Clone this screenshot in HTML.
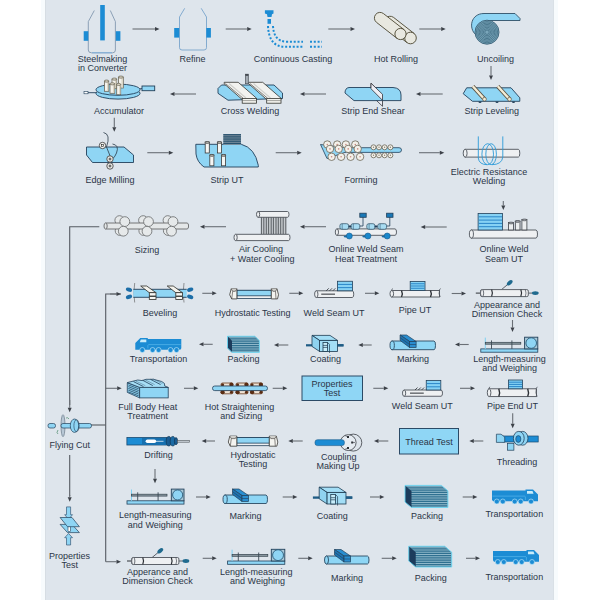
<!DOCTYPE html>
<html><head><meta charset="utf-8"><style>
html,body{margin:0;padding:0;background:#fff;}
svg{display:block;font-family:"Liberation Sans",sans-serif;}
</style></head><body>
<svg width="600" height="600" viewBox="0 0 600 600">
<rect x="0" y="0" width="600" height="600" fill="#ffffff"/>
<rect x="41" y="0" width="4" height="600" fill="#f7fbfd"/>
<rect x="554" y="0" width="4" height="600" fill="#f7fbfd"/>
<rect x="45" y="0" width="509" height="600" fill="#dee5ec"/>
<rect x="45" y="0" width="1" height="600" fill="#d6dde3"/>
<rect x="553" y="0" width="1" height="600" fill="#d9e0e6"/>
<text x="102.5" y="62" text-anchor="middle" font-size="9" fill="#2b3547">Steelmaking</text>
<text x="102.5" y="71" text-anchor="middle" font-size="9" fill="#2b3547">in Converter</text>
<text x="192.6" y="62" text-anchor="middle" font-size="9" fill="#2b3547">Refine</text>
<text x="293" y="62" text-anchor="middle" font-size="9" fill="#2b3547">Continuous Casting</text>
<text x="396" y="62" text-anchor="middle" font-size="9" fill="#2b3547">Hot Rolling</text>
<text x="495.5" y="62" text-anchor="middle" font-size="9" fill="#2b3547">Uncoiling</text>
<text x="119" y="114" text-anchor="middle" font-size="9" fill="#2b3547">Accumulator</text>
<text x="250" y="114" text-anchor="middle" font-size="9" fill="#2b3547">Cross Welding</text>
<text x="373" y="114" text-anchor="middle" font-size="9" fill="#2b3547">Strip End Shear</text>
<text x="491.7" y="114" text-anchor="middle" font-size="9" fill="#2b3547">Strip Leveling</text>
<text x="110" y="182.5" text-anchor="middle" font-size="9" fill="#2b3547">Edge Milling</text>
<text x="227" y="182.5" text-anchor="middle" font-size="9" fill="#2b3547">Strip UT</text>
<text x="361" y="182.5" text-anchor="middle" font-size="9" fill="#2b3547">Forming</text>
<text x="489" y="174.8" text-anchor="middle" font-size="9" fill="#2b3547">Electric Resistance</text>
<text x="489" y="183.5" text-anchor="middle" font-size="9" fill="#2b3547">Welding</text>
<text x="147" y="252.5" text-anchor="middle" font-size="9" fill="#2b3547">Sizing</text>
<text x="261" y="252.3" text-anchor="middle" font-size="9" fill="#2b3547">Air Cooling</text>
<text x="262.2" y="262" text-anchor="middle" font-size="9" fill="#2b3547">+ Water Cooling</text>
<text x="366" y="252.3" text-anchor="middle" font-size="9" fill="#2b3547">Online Weld Seam</text>
<text x="366" y="262" text-anchor="middle" font-size="9" fill="#2b3547">Heat Treatment</text>
<text x="504" y="252.3" text-anchor="middle" font-size="9" fill="#2b3547">Online Weld</text>
<text x="504" y="261.7" text-anchor="middle" font-size="9" fill="#2b3547">Seam UT</text>
<text x="160" y="315.5" text-anchor="middle" font-size="9" fill="#2b3547">Beveling</text>
<text x="252.7" y="315.5" text-anchor="middle" font-size="9" fill="#2b3547">Hydrostatic Testing</text>
<text x="334" y="315.8" text-anchor="middle" font-size="9" fill="#2b3547">Weld Seam UT</text>
<text x="415" y="313.3" text-anchor="middle" font-size="9" fill="#2b3547">Pipe UT</text>
<text x="507" y="307.5" text-anchor="middle" font-size="9" fill="#2b3547">Appearance and</text>
<text x="507" y="317" text-anchor="middle" font-size="9" fill="#2b3547">Dimension Check</text>
<text x="158.5" y="361.8" text-anchor="middle" font-size="9" fill="#2b3547">Transportation</text>
<text x="243.5" y="361.8" text-anchor="middle" font-size="9" fill="#2b3547">Packing</text>
<text x="325.5" y="361.8" text-anchor="middle" font-size="9" fill="#2b3547">Coating</text>
<text x="413" y="361.8" text-anchor="middle" font-size="9" fill="#2b3547">Marking</text>
<text x="509.4" y="362" text-anchor="middle" font-size="9" fill="#2b3547">Length-measuring</text>
<text x="509.6" y="371" text-anchor="middle" font-size="9" fill="#2b3547">and Weighing</text>
<text x="147.7" y="409.9" text-anchor="middle" font-size="9" fill="#2b3547">Full Body Heat</text>
<text x="147.7" y="419.3" text-anchor="middle" font-size="9" fill="#2b3547">Treatment</text>
<text x="69.7" y="447.5" text-anchor="middle" font-size="9" fill="#2b3547">Flying Cut</text>
<text x="239.5" y="409.9" text-anchor="middle" font-size="9" fill="#2b3547">Hot Straightening</text>
<text x="241.3" y="419.3" text-anchor="middle" font-size="9" fill="#2b3547">and Sizing</text>
<text x="422.3" y="409.2" text-anchor="middle" font-size="9" fill="#2b3547">Weld Seam UT</text>
<text x="512.5" y="409.2" text-anchor="middle" font-size="9" fill="#2b3547">Pipe End UT</text>
<text x="158.5" y="458.2" text-anchor="middle" font-size="9" fill="#2b3547">Drifting</text>
<text x="253" y="457.8" text-anchor="middle" font-size="9" fill="#2b3547">Hydrostatic</text>
<text x="253" y="467.2" text-anchor="middle" font-size="9" fill="#2b3547">Testing</text>
<text x="338.7" y="460" text-anchor="middle" font-size="9" fill="#2b3547">Coupling</text>
<text x="338" y="469.3" text-anchor="middle" font-size="9" fill="#2b3547">Making Up</text>
<text x="517" y="465" text-anchor="middle" font-size="9" fill="#2b3547">Threading</text>
<text x="155.3" y="518.2" text-anchor="middle" font-size="9" fill="#2b3547">Length-measuring</text>
<text x="155.3" y="527.6" text-anchor="middle" font-size="9" fill="#2b3547">and Weighing</text>
<text x="69.5" y="559" text-anchor="middle" font-size="9" fill="#2b3547">Properties</text>
<text x="69.7" y="568.4" text-anchor="middle" font-size="9" fill="#2b3547">Test</text>
<text x="245.5" y="519" text-anchor="middle" font-size="9" fill="#2b3547">Marking</text>
<text x="332.3" y="519" text-anchor="middle" font-size="9" fill="#2b3547">Coating</text>
<text x="427" y="518.8" text-anchor="middle" font-size="9" fill="#2b3547">Packing</text>
<text x="514.3" y="517" text-anchor="middle" font-size="9" fill="#2b3547">Transportation</text>
<text x="157.5" y="574.8" text-anchor="middle" font-size="9" fill="#2b3547">Apperance and</text>
<text x="157.5" y="584.2" text-anchor="middle" font-size="9" fill="#2b3547">Dimension Check</text>
<text x="256.3" y="574.8" text-anchor="middle" font-size="9" fill="#2b3547">Length-measuring</text>
<text x="257.5" y="584.3" text-anchor="middle" font-size="9" fill="#2b3547">and Weighing</text>
<text x="347" y="580.8" text-anchor="middle" font-size="9" fill="#2b3547">Marking</text>
<text x="430.7" y="580.8" text-anchor="middle" font-size="9" fill="#2b3547">Packing</text>
<text x="514.3" y="580.2" text-anchor="middle" font-size="9" fill="#2b3547">Transportation</text>
<rect x="302" y="376" width="60.5" height="24.5" fill="#8fd6f5" stroke="#2b4a66" stroke-width="1"/>
<text x="332" y="386.7" text-anchor="middle" font-size="9" fill="#2b3547">Properties</text>
<text x="332" y="396" text-anchor="middle" font-size="9" fill="#2b3547">Test</text>
<rect x="399.5" y="428.5" width="59" height="25.5" fill="#8fd6f5" stroke="#2b4a66" stroke-width="1"/>
<text x="429" y="444.8" text-anchor="middle" font-size="9" fill="#2b3547">Thread Test</text>
<line x1="132.5" y1="29" x2="155.00" y2="29.00" stroke="#6a6f76" stroke-width="1.1"/>
<path d="M159.5,29 L155.00,31.00 L155.00,27.00Z" fill="#3c4148"/>
<line x1="225.7" y1="29" x2="247.20" y2="29.00" stroke="#6a6f76" stroke-width="1.1"/>
<path d="M251.7,29 L247.20,31.00 L247.20,27.00Z" fill="#3c4148"/>
<line x1="328.3" y1="29" x2="350.50" y2="29.00" stroke="#6a6f76" stroke-width="1.1"/>
<path d="M355,29 L350.50,31.00 L350.50,27.00Z" fill="#3c4148"/>
<line x1="419.3" y1="29" x2="441.20" y2="29.00" stroke="#6a6f76" stroke-width="1.1"/>
<path d="M445.7,29 L441.20,31.00 L441.20,27.00Z" fill="#3c4148"/>
<line x1="491" y1="66" x2="491.00" y2="75.50" stroke="#6a6f76" stroke-width="1.1"/>
<path d="M491,80 L489.00,75.50 L493.00,75.50Z" fill="#3c4148"/>
<line x1="442.7" y1="94" x2="420.50" y2="94.00" stroke="#6a6f76" stroke-width="1.1"/>
<path d="M416,94 L420.50,92.00 L420.50,96.00Z" fill="#3c4148"/>
<line x1="326" y1="94" x2="304.50" y2="94.00" stroke="#6a6f76" stroke-width="1.1"/>
<path d="M300,94 L304.50,92.00 L304.50,96.00Z" fill="#3c4148"/>
<line x1="196" y1="94" x2="174.50" y2="94.00" stroke="#6a6f76" stroke-width="1.1"/>
<path d="M170,94 L174.50,92.00 L174.50,96.00Z" fill="#3c4148"/>
<line x1="114.3" y1="117.7" x2="114.30" y2="127.20" stroke="#6a6f76" stroke-width="1.1"/>
<path d="M114.3,131.7 L112.30,127.20 L116.30,127.20Z" fill="#3c4148"/>
<line x1="147.3" y1="152.7" x2="168.80" y2="152.70" stroke="#6a6f76" stroke-width="1.1"/>
<path d="M173.3,152.7 L168.80,154.70 L168.80,150.70Z" fill="#3c4148"/>
<line x1="275.7" y1="152.7" x2="297.20" y2="152.70" stroke="#6a6f76" stroke-width="1.1"/>
<path d="M301.7,152.7 L297.20,154.70 L297.20,150.70Z" fill="#3c4148"/>
<line x1="419" y1="152.7" x2="439.80" y2="152.70" stroke="#6a6f76" stroke-width="1.1"/>
<path d="M444.3,152.7 L439.80,154.70 L439.80,150.70Z" fill="#3c4148"/>
<line x1="503.3" y1="201" x2="503.30" y2="205.50" stroke="#6a6f76" stroke-width="1.1"/>
<path d="M503.3,210 L501.30,205.50 L505.30,205.50Z" fill="#3c4148"/>
<line x1="446.7" y1="227" x2="425.20" y2="227.00" stroke="#6a6f76" stroke-width="1.1"/>
<path d="M420.7,227 L425.20,225.00 L425.20,229.00Z" fill="#3c4148"/>
<line x1="326" y1="226.7" x2="304.50" y2="226.70" stroke="#6a6f76" stroke-width="1.1"/>
<path d="M300,226.7 L304.50,224.70 L304.50,228.70Z" fill="#3c4148"/>
<line x1="226" y1="226.7" x2="204.50" y2="226.70" stroke="#6a6f76" stroke-width="1.1"/>
<path d="M200,226.7 L204.50,224.70 L204.50,228.70Z" fill="#3c4148"/>
<line x1="202.3" y1="293.3" x2="212.20" y2="293.30" stroke="#6a6f76" stroke-width="1.1"/>
<path d="M216.7,293.3 L212.20,295.30 L212.20,291.30Z" fill="#3c4148"/>
<line x1="289.3" y1="293.3" x2="298.80" y2="293.30" stroke="#6a6f76" stroke-width="1.1"/>
<path d="M303.3,293.3 L298.80,295.30 L298.80,291.30Z" fill="#3c4148"/>
<line x1="365" y1="293.3" x2="374.80" y2="293.30" stroke="#6a6f76" stroke-width="1.1"/>
<path d="M379.3,293.3 L374.80,295.30 L374.80,291.30Z" fill="#3c4148"/>
<line x1="451.7" y1="293.5" x2="461.50" y2="293.50" stroke="#6a6f76" stroke-width="1.1"/>
<path d="M466,293.5 L461.50,295.50 L461.50,291.50Z" fill="#3c4148"/>
<line x1="512.5" y1="320" x2="512.50" y2="327.50" stroke="#6a6f76" stroke-width="1.1"/>
<path d="M512.5,332 L510.50,327.50 L514.50,327.50Z" fill="#3c4148"/>
<line x1="468.7" y1="344.5" x2="459.50" y2="344.50" stroke="#6a6f76" stroke-width="1.1"/>
<path d="M455,344.5 L459.50,342.50 L459.50,346.50Z" fill="#3c4148"/>
<line x1="371.7" y1="345" x2="362.80" y2="345.00" stroke="#6a6f76" stroke-width="1.1"/>
<path d="M358.3,345 L362.80,343.00 L362.80,347.00Z" fill="#3c4148"/>
<line x1="288.3" y1="345" x2="278.50" y2="345.00" stroke="#6a6f76" stroke-width="1.1"/>
<path d="M274,345 L278.50,343.00 L278.50,347.00Z" fill="#3c4148"/>
<line x1="212.7" y1="344.3" x2="203.50" y2="344.30" stroke="#6a6f76" stroke-width="1.1"/>
<path d="M199,344.3 L203.50,342.30 L203.50,346.30Z" fill="#3c4148"/>
<line x1="105.7" y1="388.3" x2="117.20" y2="388.30" stroke="#6a6f76" stroke-width="1.1"/>
<path d="M121.7,388.3 L117.20,390.30 L117.20,386.30Z" fill="#3c4148"/>
<line x1="184" y1="388.3" x2="193.80" y2="388.30" stroke="#6a6f76" stroke-width="1.1"/>
<path d="M198.3,388.3 L193.80,390.30 L193.80,386.30Z" fill="#3c4148"/>
<line x1="272.7" y1="388.3" x2="282.80" y2="388.30" stroke="#6a6f76" stroke-width="1.1"/>
<path d="M287.3,388.3 L282.80,390.30 L282.80,386.30Z" fill="#3c4148"/>
<line x1="373.3" y1="388.3" x2="383.80" y2="388.30" stroke="#6a6f76" stroke-width="1.1"/>
<path d="M388.3,388.3 L383.80,390.30 L383.80,386.30Z" fill="#3c4148"/>
<line x1="460" y1="388.3" x2="470.50" y2="388.30" stroke="#6a6f76" stroke-width="1.1"/>
<path d="M475,388.3 L470.50,390.30 L470.50,386.30Z" fill="#3c4148"/>
<line x1="512.7" y1="413.3" x2="512.70" y2="423.80" stroke="#6a6f76" stroke-width="1.1"/>
<path d="M512.7,428.3 L510.70,423.80 L514.70,423.80Z" fill="#3c4148"/>
<line x1="483.3" y1="441" x2="473.80" y2="441.00" stroke="#6a6f76" stroke-width="1.1"/>
<path d="M469.3,441 L473.80,439.00 L473.80,443.00Z" fill="#3c4148"/>
<line x1="388.3" y1="441" x2="378.50" y2="441.00" stroke="#6a6f76" stroke-width="1.1"/>
<path d="M374,441 L378.50,439.00 L378.50,443.00Z" fill="#3c4148"/>
<line x1="302.7" y1="441" x2="292.80" y2="441.00" stroke="#6a6f76" stroke-width="1.1"/>
<path d="M288.3,441 L292.80,439.00 L292.80,443.00Z" fill="#3c4148"/>
<line x1="215" y1="441" x2="206.20" y2="441.00" stroke="#6a6f76" stroke-width="1.1"/>
<path d="M201.7,441 L206.20,439.00 L206.20,443.00Z" fill="#3c4148"/>
<line x1="155" y1="469" x2="155.00" y2="478.80" stroke="#6a6f76" stroke-width="1.1"/>
<path d="M155,483.3 L153.00,478.80 L157.00,478.80Z" fill="#3c4148"/>
<line x1="196" y1="497" x2="206.20" y2="497.00" stroke="#6a6f76" stroke-width="1.1"/>
<path d="M210.7,497 L206.20,499.00 L206.20,495.00Z" fill="#3c4148"/>
<line x1="282.7" y1="497" x2="292.80" y2="497.00" stroke="#6a6f76" stroke-width="1.1"/>
<path d="M297.3,497 L292.80,499.00 L292.80,495.00Z" fill="#3c4148"/>
<line x1="370" y1="497" x2="379.80" y2="497.00" stroke="#6a6f76" stroke-width="1.1"/>
<path d="M384.3,497 L379.80,499.00 L379.80,495.00Z" fill="#3c4148"/>
<line x1="462.7" y1="497" x2="472.80" y2="497.00" stroke="#6a6f76" stroke-width="1.1"/>
<path d="M477.3,497 L472.80,499.00 L472.80,495.00Z" fill="#3c4148"/>
<line x1="202.7" y1="558.3" x2="212.20" y2="558.30" stroke="#6a6f76" stroke-width="1.1"/>
<path d="M216.7,558.3 L212.20,560.30 L212.20,556.30Z" fill="#3c4148"/>
<line x1="298.3" y1="558.3" x2="308.20" y2="558.30" stroke="#6a6f76" stroke-width="1.1"/>
<path d="M312.7,558.3 L308.20,560.30 L308.20,556.30Z" fill="#3c4148"/>
<line x1="381.7" y1="558.3" x2="392.20" y2="558.30" stroke="#6a6f76" stroke-width="1.1"/>
<path d="M396.7,558.3 L392.20,560.30 L392.20,556.30Z" fill="#3c4148"/>
<line x1="466" y1="558.3" x2="475.50" y2="558.30" stroke="#6a6f76" stroke-width="1.1"/>
<path d="M480,558.3 L475.50,560.30 L475.50,556.30Z" fill="#3c4148"/>
<path d="M99.3,226.7 L69.7,226.7 L69.7,405" fill="none" stroke="#565b62" stroke-width="1.1"/>
<line x1="69.7" y1="400" x2="69.70" y2="407.80" stroke="#6a6f76" stroke-width="1.1"/>
<path d="M69.7,412.3 L67.70,407.80 L71.70,407.80Z" fill="#3c4148"/>
<path d="M69.7,455 L69.7,496" fill="none" stroke="#565b62" stroke-width="1.1"/>
<line x1="69.7" y1="495" x2="69.70" y2="497.20" stroke="#6a6f76" stroke-width="1.1"/>
<path d="M69.7,501.7 L67.70,497.20 L71.70,497.20Z" fill="#3c4148"/>
<path d="M90,425 L105.7,425" fill="none" stroke="#565b62" stroke-width="1.1"/>
<path d="M121,294 L105.7,294 L105.7,561.7" fill="none" stroke="#565b62" stroke-width="1.1"/>
<line x1="110" y1="294" x2="116.50" y2="294.00" stroke="#6a6f76" stroke-width="1.1"/>
<path d="M121,294 L116.50,296.00 L116.50,292.00Z" fill="#3c4148"/>
<line x1="105.7" y1="561.7" x2="116.50" y2="561.70" stroke="#6a6f76" stroke-width="1.1"/>
<path d="M121,561.7 L116.50,563.70 L116.50,559.70Z" fill="#3c4148"/>
<path d="M94.3,10.5 L88.3,21.6 L88.3,50 Q88.3,52.8 91.5,52.8 L112.6,52.8 Q115.4,52.8 115.4,50 L115.4,21.6 L110.3,10.5" fill="none" stroke="#8298b0" stroke-width="0.9"/>
<line x1="92" y1="52.8" x2="112" y2="52.8" stroke="#7fb0dc" stroke-width="1"/>
<rect x="83.7" y="31.2" width="4.6" height="9.6" fill="#1c8cd4"/>
<rect x="115.8" y="31.2" width="4.6" height="9.6" fill="#1c8cd4"/>
<rect x="100.2" y="5" width="4.6" height="35.4" fill="#1c8cd4"/>
<path d="M184.7,8.3 L179.5,17 L179.5,47.7 Q179.5,50 182,50 L204,50 Q206.5,50 206.5,47.7 L206.5,17 L201.2,8.3" fill="none" stroke="#78a4cc" stroke-width="0.9"/>
<rect x="174.2" y="28" width="5" height="9.6" fill="#1c8cd4"/>
<rect x="206.3" y="28" width="4.6" height="9.6" fill="#1c8cd4"/>
<path d="M264.9,10.3 L273.5,10.3 L273.5,13.5 L272,14.2 L271.5,17 L267.5,17 L267,14.2 L264.9,13.5Z" fill="#1c8cd4"/>
<rect x="267.5" y="19" width="3.5" height="4.8" fill="#1c8cd4"/>
<path d="M268,26 C268.5,38 273,46.8 285,46.8 L303,46.8" fill="none" stroke="#1c8cd4" stroke-width="2" stroke-dasharray="2,1.8"/>
<path d="M273,26 C273.5,35 277,41.7 287,41.7 L303,41.7" fill="none" stroke="#1c8cd4" stroke-width="2" stroke-dasharray="2,1.8"/>
<path d="M310,46.8 L322,46.8 M310,41.7 L322,41.7" fill="none" stroke="#1c8cd4" stroke-width="2" stroke-dasharray="2,1.8"/>
<path d="M386.44,26.56 L406.93,42.57 L414.07,33.43 L393.58,17.42 A5.8,5.8 0 0 0 386.44,26.56 Z" fill="#e8e8e0" stroke="#4a4530" stroke-width="0.9"/>
<circle cx="410.5" cy="38" r="5.8" fill="#e8e8e0" stroke="#4a4530" stroke-width="0.9"/>
<path d="M376.56,22.41 L397.05,38.41 L403.95,29.59 L383.46,13.58 A5.6,5.6 0 0 0 376.56,22.41 Z" fill="#e8e8e0" stroke="#4a4530" stroke-width="0.9"/>
<circle cx="400.5" cy="34" r="5.6" fill="#e8e8e0" stroke="#4a4530" stroke-width="0.9"/>
<path d="M476,35 C468,28 471,13.5 484,13.5 L515,13.5 L520,18.5 L520,20.5 L488,20.5 Z" fill="#8fd5f4" stroke="#2f5068" stroke-width="0.9"/>
<circle cx="487" cy="32.2" r="12" fill="#7aa6ba" stroke="#3a6076" stroke-width="0.9"/>
<circle cx="487" cy="32.2" r="10.6" fill="none" stroke="#3d6a80" stroke-width="0.75"/>
<circle cx="487" cy="32.2" r="9.2" fill="none" stroke="#3d6a80" stroke-width="0.75"/>
<circle cx="487" cy="32.2" r="7.8" fill="none" stroke="#3d6a80" stroke-width="0.75"/>
<circle cx="487" cy="32.2" r="6.4" fill="none" stroke="#3d6a80" stroke-width="0.75"/>
<circle cx="487" cy="32.2" r="5.0" fill="none" stroke="#3d6a80" stroke-width="0.75"/>
<circle cx="487" cy="32.2" r="3.6" fill="none" stroke="#3d6a80" stroke-width="0.75"/>
<circle cx="487" cy="32.2" r="2.2" fill="none" stroke="#3d6a80" stroke-width="0.75"/>
<line x1="84" y1="92.7" x2="97" y2="92.7" stroke="#22405a" stroke-width="0.9"/>
<rect x="84" y="91.6" width="4" height="2.2" fill="#fff" stroke="#22405a" stroke-width="0.6"/>
<line x1="138" y1="89" x2="143" y2="88.5" stroke="#22405a" stroke-width="0.9"/>
<rect x="142" y="86" width="12.7" height="4.7" fill="#8fd5f4" stroke="#22405a" stroke-width="0.9"/>
<ellipse cx="118" cy="93.3" rx="22" ry="5.8" fill="#8fd5f4" stroke="#22405a" stroke-width="0.9"/>
<ellipse cx="118" cy="89.7" rx="22" ry="5.6" fill="#8fd5f4" stroke="#22405a" stroke-width="0.9"/>
<rect x="112" y="79.1" width="4.7" height="9.6" fill="#f4f3ee" stroke="#6a6658" stroke-width="0.8"/>
<rect x="114.914" y="79.6" width="1.41" height="8.5" fill="#dcd6c4"/>
<ellipse cx="114.35" cy="79.1" rx="2.35" ry="1.1" fill="#d8d2c0" stroke="#6a6658" stroke-width="0.7"/>
<rect x="118.4" y="77.1" width="4.9" height="10.9" fill="#f4f3ee" stroke="#6a6658" stroke-width="0.8"/>
<rect x="121.438" y="77.6" width="1.47" height="9.8" fill="#dcd6c4"/>
<ellipse cx="120.85000000000001" cy="77.1" rx="2.45" ry="1.1" fill="#d8d2c0" stroke="#6a6658" stroke-width="0.7"/>
<rect x="104.4" y="81.1" width="4.3" height="10.200000000000001" fill="#f4f3ee" stroke="#6a6658" stroke-width="0.8"/>
<rect x="107.066" y="81.6" width="1.2899999999999998" height="9.100000000000001" fill="#dcd6c4"/>
<ellipse cx="106.55000000000001" cy="81.1" rx="2.15" ry="1.1" fill="#d8d2c0" stroke="#6a6658" stroke-width="0.7"/>
<rect x="110" y="83.8" width="4.7" height="9.5" fill="#f4f3ee" stroke="#6a6658" stroke-width="0.8"/>
<rect x="112.914" y="84.3" width="1.41" height="8.399999999999999" fill="#dcd6c4"/>
<ellipse cx="112.35" cy="83.8" rx="2.35" ry="1.1" fill="#d8d2c0" stroke="#6a6658" stroke-width="0.7"/>
<rect x="116.7" y="84.39999999999999" width="4" height="10.3" fill="#f4f3ee" stroke="#6a6658" stroke-width="0.8"/>
<rect x="119.18" y="84.89999999999999" width="1.2" height="9.2" fill="#dcd6c4"/>
<ellipse cx="118.7" cy="84.39999999999999" rx="2.0" ry="1.1" fill="#d8d2c0" stroke="#6a6658" stroke-width="0.7"/>
<path d="M218,88.5 L221.5,85 L274,85 L282.5,93 L282.5,98.5 L228,100.2 L218,93.3 Z" fill="#8fd5f4" stroke="#22405a" stroke-width="0.9"/>
<path d="M224.2,82.3 L238.2,82.3 L256.5,98.2 L256.5,99.5 L242.2,99.5 L224.2,83.8 Z" fill="#f2f2ef" stroke="#34342f" stroke-width="0.8"/>
<line x1="225.5" y1="83.6" x2="243.2" y2="98.3" stroke="#34342f" stroke-width="0.6"/>
<line x1="229" y1="83.5" x2="246" y2="98" stroke="#d0d0cc" stroke-width="1.2"/>
<rect x="242.2" y="98.4" width="14.3" height="4.8" fill="#f4f4f0" stroke="#34342f" stroke-width="0.8"/>
<line x1="242.2" y1="100.6" x2="256.5" y2="100.6" stroke="#6a6a66" stroke-width="0.6"/>
<path d="M248.7,82.3 L262.7,82.3 L281.0,98.2 L281.0,99.5 L266.7,99.5 L248.7,83.8 Z" fill="#f2f2ef" stroke="#34342f" stroke-width="0.8"/>
<line x1="250.0" y1="83.6" x2="267.7" y2="98.3" stroke="#34342f" stroke-width="0.6"/>
<line x1="253.5" y1="83.5" x2="270.5" y2="98" stroke="#d0d0cc" stroke-width="1.2"/>
<rect x="266.7" y="98.4" width="14.3" height="4.8" fill="#f4f4f0" stroke="#34342f" stroke-width="0.8"/>
<line x1="266.7" y1="100.6" x2="281.0" y2="100.6" stroke="#6a6a66" stroke-width="0.6"/>
<rect x="245.5" y="74.2" width="2.8" height="9.5" fill="#a4acb4" stroke="#4a5058" stroke-width="0.7"/>
<rect x="245.5" y="74.2" width="2.8" height="1.6" fill="#3a4048"/>
<path d="M371,83.25 L382.5,94.25 L382.5,106.25 L371,95.25 Z" fill="#eeeef4" stroke="#34343a" stroke-width="0.8"/>
<path d="M349,87.5 L393,87.5 Q401,88 401,95 L401,100.6 L354,100.6 L345,93 Q345,88 349,87.5 Z" fill="#8fd5f4" stroke="#22405a" stroke-width="0.9"/>
<path d="M371,83.25 L382.5,94.25 L382.5,100.3 L371,88.75 Z" fill="#eeeef4" stroke="#34343a" stroke-width="0.8"/>
<path d="M466.7,87.8 L511,87.8 L519.8,97.8 L519.8,101.3 L472.5,101.3 L463.2,93.7 Z" fill="#8fd5f4" stroke="#22405a" stroke-width="0.9"/>
<line x1="472.8" y1="86.3" x2="484.5" y2="99.2" stroke="#5a5040" stroke-width="4"/>
<line x1="472.8" y1="86.3" x2="484.5" y2="99.2" stroke="#f4ecd4" stroke-width="2.4"/>
<circle cx="484.5" cy="99.2" r="1.9" fill="#f4ecd4" stroke="#5a5040" stroke-width="0.7"/>
<line x1="497.8" y1="86.3" x2="509.5" y2="99.2" stroke="#5a5040" stroke-width="4"/>
<line x1="497.8" y1="86.3" x2="509.5" y2="99.2" stroke="#f4ecd4" stroke-width="2.4"/>
<circle cx="509.5" cy="99.2" r="1.9" fill="#f4ecd4" stroke="#5a5040" stroke-width="0.7"/>
<path d="M478.4,101.5 A1.6,1.6 0 0 0 481.6,101.5 Z" fill="#22405a"/>
<path d="M495.4,101.5 A1.6,1.6 0 0 0 498.6,101.5 Z" fill="#22405a"/>
<path d="M511.9,101.5 A1.6,1.6 0 0 0 515.1,101.5 Z" fill="#22405a"/>
<path d="M86.5,147 L124,147 L133.5,155 L133.5,162.5 L92.5,162.5 L86.5,155 Z" fill="#8fd5f4" stroke="#22405a" stroke-width="0.9"/>
<path d="M103.5,132.5 Q111,134 106.5,147 L110.5,157" fill="none" stroke="#2a3a48" stroke-width="0.8"/>
<path d="M112.5,144 Q119.5,145 116.5,153 Q115,156.5 113,158.5" fill="none" stroke="#2a3a48" stroke-width="0.8"/>
<circle cx="102.5" cy="145.5" r="3.2" fill="#f4f4f0" stroke="#333" stroke-width="0.8"/>
<rect x="101.6" y="144.6" width="1.8" height="1.8" fill="none" stroke="#222" stroke-width="0.6"/>
<circle cx="110" cy="159" r="3.2" fill="#f4f4f0" stroke="#333" stroke-width="0.8"/>
<rect x="109.1" y="158.1" width="1.8" height="1.8" fill="none" stroke="#222" stroke-width="0.6"/>
<circle cx="110" cy="166" r="3.2" fill="#f4f4f0" stroke="#333" stroke-width="0.8"/>
<rect x="109.1" y="165.1" width="1.8" height="1.8" fill="none" stroke="#222" stroke-width="0.6"/>
<path d="M195.8,144.3 L241.3,144.3 Q255,148 258.3,165.3 L258.3,167 L204,167 Q197,162 196,154 Z" fill="#8fd5f4" stroke="#22405a" stroke-width="0.9"/>
<rect x="223.3" y="134.1" width="17.7" height="10.7" fill="#8a9aa6"/>
<rect x="223.3" y="134.10" width="17.7" height="1.3" fill="#27526e"/>
<rect x="223.3" y="136.25" width="17.7" height="1.3" fill="#27526e"/>
<rect x="223.3" y="138.40" width="17.7" height="1.3" fill="#27526e"/>
<rect x="223.3" y="140.55" width="17.7" height="1.3" fill="#27526e"/>
<rect x="223.3" y="142.70" width="17.7" height="1.3" fill="#27526e"/>
<rect x="205.2" y="141.9" width="4.1" height="11.1" fill="#f6f6f4" stroke="#3a3a3a" stroke-width="0.8"/>
<ellipse cx="207.25" cy="142.5" rx="2.05" ry="1" fill="#b0b0aa" stroke="#3a3a3a" stroke-width="0.6"/>
<rect x="217.4" y="141.9" width="4.1" height="11.1" fill="#f6f6f4" stroke="#3a3a3a" stroke-width="0.8"/>
<ellipse cx="219.45000000000002" cy="142.5" rx="2.05" ry="1" fill="#b0b0aa" stroke="#3a3a3a" stroke-width="0.6"/>
<rect x="209.8" y="154.8" width="4.1" height="11" fill="#f6f6f4" stroke="#3a3a3a" stroke-width="0.8"/>
<ellipse cx="211.85000000000002" cy="155.4" rx="2.05" ry="1" fill="#b0b0aa" stroke="#3a3a3a" stroke-width="0.6"/>
<rect x="221.5" y="154.8" width="4.1" height="11" fill="#f6f6f4" stroke="#3a3a3a" stroke-width="0.8"/>
<ellipse cx="223.55" cy="155.4" rx="2.05" ry="1" fill="#b0b0aa" stroke="#3a3a3a" stroke-width="0.6"/>
<path d="M320.5,144.5 L345,147.7 L399,147.7 Q401.5,147.7 401.5,150 Q401.5,152.4 399,152.4 L345,152.4 L327,158.5 Z" fill="#8fd5f4" stroke="#22405a" stroke-width="0.8"/>
<circle cx="327.3" cy="144.5" r="3.7" fill="#f3f1ea" stroke="#6a6455" stroke-width="0.8"/>
<circle cx="327.3" cy="144.5" r="0.8" fill="#c88a80"/>
<circle cx="337.2" cy="144.5" r="3.7" fill="#f3f1ea" stroke="#6a6455" stroke-width="0.8"/>
<circle cx="337.2" cy="144.5" r="0.8" fill="#c88a80"/>
<circle cx="345.9" cy="144.5" r="3.7" fill="#f3f1ea" stroke="#6a6455" stroke-width="0.8"/>
<circle cx="345.9" cy="144.5" r="0.8" fill="#c88a80"/>
<circle cx="355.3" cy="144.5" r="3.7" fill="#f3f1ea" stroke="#6a6455" stroke-width="0.8"/>
<circle cx="355.3" cy="144.5" r="0.8" fill="#c88a80"/>
<circle cx="330" cy="148.9" r="3.7" fill="#f3f1ea" stroke="#6a6455" stroke-width="0.8"/>
<circle cx="330" cy="148.9" r="0.8" fill="#c88a80"/>
<circle cx="338.7" cy="148.9" r="3.7" fill="#f3f1ea" stroke="#6a6455" stroke-width="0.8"/>
<circle cx="338.7" cy="148.9" r="0.8" fill="#c88a80"/>
<circle cx="348.2" cy="148.9" r="3.7" fill="#f3f1ea" stroke="#6a6455" stroke-width="0.8"/>
<circle cx="348.2" cy="148.9" r="0.8" fill="#c88a80"/>
<circle cx="357.7" cy="148.9" r="3.7" fill="#f3f1ea" stroke="#6a6455" stroke-width="0.8"/>
<circle cx="357.7" cy="148.9" r="0.8" fill="#c88a80"/>
<circle cx="331.6" cy="156.8" r="3.7" fill="#f3f1ea" stroke="#6a6455" stroke-width="0.8"/>
<circle cx="331.6" cy="156.8" r="0.8" fill="#c88a80"/>
<circle cx="341.1" cy="156.8" r="3.7" fill="#f3f1ea" stroke="#6a6455" stroke-width="0.8"/>
<circle cx="341.1" cy="156.8" r="0.8" fill="#c88a80"/>
<circle cx="350.6" cy="156.8" r="3.7" fill="#f3f1ea" stroke="#6a6455" stroke-width="0.8"/>
<circle cx="350.6" cy="156.8" r="0.8" fill="#c88a80"/>
<circle cx="360.1" cy="156.8" r="3.7" fill="#f3f1ea" stroke="#6a6455" stroke-width="0.8"/>
<circle cx="360.1" cy="156.8" r="0.8" fill="#c88a80"/>
<circle cx="373.5" cy="147.3" r="2.5" fill="#f3f1ea" stroke="#6a6455" stroke-width="0.8"/>
<circle cx="373.5" cy="147.3" r="0.7" fill="#8a8070"/>
<circle cx="379" cy="147.3" r="2.5" fill="#f3f1ea" stroke="#6a6455" stroke-width="0.8"/>
<circle cx="379" cy="147.3" r="0.7" fill="#8a8070"/>
<circle cx="384.6" cy="147.3" r="2.5" fill="#f3f1ea" stroke="#6a6455" stroke-width="0.8"/>
<circle cx="384.6" cy="147.3" r="0.7" fill="#8a8070"/>
<circle cx="390.4" cy="147.3" r="2.5" fill="#f3f1ea" stroke="#6a6455" stroke-width="0.8"/>
<circle cx="390.4" cy="147.3" r="0.7" fill="#8a8070"/>
<circle cx="373.5" cy="155.3" r="2.5" fill="#f3f1ea" stroke="#6a6455" stroke-width="0.8"/>
<circle cx="373.5" cy="155.3" r="0.7" fill="#8a8070"/>
<circle cx="379" cy="155.3" r="2.5" fill="#f3f1ea" stroke="#6a6455" stroke-width="0.8"/>
<circle cx="379" cy="155.3" r="0.7" fill="#8a8070"/>
<circle cx="384.6" cy="155.3" r="2.5" fill="#f3f1ea" stroke="#6a6455" stroke-width="0.8"/>
<circle cx="384.6" cy="155.3" r="0.7" fill="#8a8070"/>
<circle cx="390.4" cy="155.3" r="2.5" fill="#f3f1ea" stroke="#6a6455" stroke-width="0.8"/>
<circle cx="390.4" cy="155.3" r="0.7" fill="#8a8070"/>
<path d="M464.8,149.3 L518.3,149.3 Q519.8,149.3 519.8,153.2 Q519.8,157.1 518.3,157.1 L464.8,157.1 Z" fill="#eef0f2" stroke="#4d525a" stroke-width="0.9"/>
<ellipse cx="465.15" cy="153.2" rx="1.95" ry="3.8999999999999915" fill="#eef0f2" stroke="#4d525a" stroke-width="0.9"/>
<ellipse cx="487.7" cy="154.2" rx="5.8" ry="10.5" fill="none" stroke="#2a9ad8" stroke-width="0.9"/>
<ellipse cx="491.1" cy="154.2" rx="5.3" ry="10.5" fill="none" stroke="#2a9ad8" stroke-width="0.9"/>
<path d="M478.3,136.4 L478.3,158 Q479,164.5 487,164.7" fill="none" stroke="#2a9ad8" stroke-width="0.9"/>
<path d="M502.8,136.4 L502.8,157 Q502,164.5 492,164.7" fill="none" stroke="#2a9ad8" stroke-width="0.9"/>
<circle cx="119.5" cy="220.3" r="4.6" fill="#e6e9ea" stroke="#66686a" stroke-width="0.8"/>
<circle cx="119.8" cy="230.8" r="4.6" fill="#e6e9ea" stroke="#66686a" stroke-width="0.8"/>
<circle cx="143.2" cy="220.3" r="4.6" fill="#e6e9ea" stroke="#66686a" stroke-width="0.8"/>
<circle cx="143.5" cy="230.8" r="4.6" fill="#e6e9ea" stroke="#66686a" stroke-width="0.8"/>
<circle cx="167.7" cy="220.3" r="4.6" fill="#e6e9ea" stroke="#66686a" stroke-width="0.8"/>
<circle cx="168.0" cy="230.8" r="4.6" fill="#e6e9ea" stroke="#66686a" stroke-width="0.8"/>
<path d="M105.6,223 L187.1,223 Q188.6,223 188.6,226.0 Q188.6,229 187.1,229 L105.6,229 Z" fill="#e4e7e8" stroke="#66686a" stroke-width="0.9"/>
<ellipse cx="105.60" cy="226.0" rx="1.60" ry="3.0" fill="#e4e7e8" stroke="#66686a" stroke-width="0.9"/>
<circle cx="124.8" cy="221.6" r="4.9" fill="#e6e9ea" stroke="#66686a" stroke-width="0.8"/>
<circle cx="123.3" cy="231.2" r="4.9" fill="#e6e9ea" stroke="#66686a" stroke-width="0.8"/>
<circle cx="148.5" cy="221.6" r="4.9" fill="#e6e9ea" stroke="#66686a" stroke-width="0.8"/>
<circle cx="147.0" cy="231.2" r="4.9" fill="#e6e9ea" stroke="#66686a" stroke-width="0.8"/>
<circle cx="173.0" cy="221.6" r="4.9" fill="#e6e9ea" stroke="#66686a" stroke-width="0.8"/>
<circle cx="171.5" cy="231.2" r="4.9" fill="#e6e9ea" stroke="#66686a" stroke-width="0.8"/>
<rect x="260.9" y="217" width="25.4" height="17.5" fill="#c6cace"/>
<line x1="261.4" y1="217" x2="261.4" y2="234.5" stroke="#3e4248" stroke-width="0.8"/>
<line x1="263.8" y1="217" x2="263.8" y2="234.5" stroke="#3e4248" stroke-width="0.8"/>
<line x1="266.3" y1="217" x2="266.3" y2="234.5" stroke="#3e4248" stroke-width="0.8"/>
<line x1="268.6" y1="217" x2="268.6" y2="234.5" stroke="#3e4248" stroke-width="0.8"/>
<line x1="271.2" y1="217" x2="271.2" y2="234.5" stroke="#3e4248" stroke-width="0.8"/>
<line x1="273.4" y1="217" x2="273.4" y2="234.5" stroke="#3e4248" stroke-width="0.8"/>
<line x1="276" y1="217" x2="276" y2="234.5" stroke="#3e4248" stroke-width="0.8"/>
<line x1="278.3" y1="217" x2="278.3" y2="234.5" stroke="#3e4248" stroke-width="0.8"/>
<line x1="280.7" y1="217" x2="280.7" y2="234.5" stroke="#3e4248" stroke-width="0.8"/>
<line x1="283.2" y1="217" x2="283.2" y2="234.5" stroke="#3e4248" stroke-width="0.8"/>
<line x1="285.8" y1="217" x2="285.8" y2="234.5" stroke="#3e4248" stroke-width="0.8"/>
<path d="M258.1,211.5 L287.5,211.5 Q289,211.5 289,214.4 Q289,217.3 287.5,217.3 L258.1,217.3 Z" fill="#eef0f2" stroke="#4d525a" stroke-width="0.9"/>
<ellipse cx="258.10" cy="214.4" rx="1.60" ry="2.9000000000000057" fill="#eef0f2" stroke="#4d525a" stroke-width="0.9"/>
<path d="M235.6,234.3 L288.5,234.3 Q290,234.3 290,237.45 Q290,240.6 288.5,240.6 L235.6,240.6 Z" fill="#eef0f2" stroke="#4d525a" stroke-width="0.9"/>
<ellipse cx="235.60" cy="237.45" rx="1.60" ry="3.1499999999999915" fill="#eef0f2" stroke="#4d525a" stroke-width="0.9"/>
<path d="M336.90000000000003,228.9 L395.0,228.9 Q396.5,228.9 396.5,232.10000000000002 Q396.5,235.3 395.0,235.3 L336.90000000000003,235.3 Z" fill="#eef0f2" stroke="#4d525a" stroke-width="0.9"/>
<ellipse cx="336.90" cy="232.10000000000002" rx="1.60" ry="3.200000000000003" fill="#eef0f2" stroke="#4d525a" stroke-width="0.9"/>
<rect x="339.9" y="223.7" width="8.8" height="5.6" rx="2" fill="#a8dcf2" stroke="#3a5a70" stroke-width="0.8"/>
<line x1="342.2" y1="223.9" x2="342.2" y2="229.1" stroke="#22405a" stroke-width="0.5"/>
<rect x="351" y="223.7" width="8.8" height="5.6" rx="2" fill="#a8dcf2" stroke="#3a5a70" stroke-width="0.8"/>
<line x1="353.3" y1="223.9" x2="353.3" y2="229.1" stroke="#22405a" stroke-width="0.5"/>
<rect x="366.8" y="223.7" width="8.1" height="5.6" rx="2" fill="#a8dcf2" stroke="#3a5a70" stroke-width="0.8"/>
<line x1="369.1" y1="223.9" x2="369.1" y2="229.1" stroke="#22405a" stroke-width="0.5"/>
<rect x="377.8" y="223.7" width="8.8" height="5.6" rx="2" fill="#a8dcf2" stroke="#3a5a70" stroke-width="0.8"/>
<line x1="380.1" y1="223.9" x2="380.1" y2="229.1" stroke="#22405a" stroke-width="0.5"/>
<rect x="348.5" y="225.5" width="2.8" height="2" fill="#22405a"/>
<rect x="374.7" y="225.5" width="2.8" height="2" fill="#22405a"/>
<path d="M363.0,217 L363.0,226 L359.8,226" fill="none" stroke="#22405a" stroke-width="0.8"/>
<rect x="359.8" y="213.2" width="6.4" height="4.1" fill="#1a78b6" stroke="#22405a" stroke-width="0.8"/>
<path d="M389.8,217 L389.8,226 L386.6,226" fill="none" stroke="#22405a" stroke-width="0.8"/>
<rect x="386.6" y="213.2" width="6.4" height="4.1" fill="#1a78b6" stroke="#22405a" stroke-width="0.8"/>
<ellipse cx="345.7" cy="236.6" rx="2" ry="1" fill="#1a6aa0"/>
<circle cx="349.3" cy="236" r="3" fill="#1a88cc" stroke="#1a5a8a" stroke-width="0.6"/>
<ellipse cx="364.29999999999995" cy="236.6" rx="2" ry="1" fill="#1a6aa0"/>
<circle cx="367.9" cy="236" r="3" fill="#1a88cc" stroke="#1a5a8a" stroke-width="0.6"/>
<ellipse cx="383.59999999999997" cy="236.6" rx="2" ry="1" fill="#1a6aa0"/>
<circle cx="387.2" cy="236" r="3" fill="#1a88cc" stroke="#1a5a8a" stroke-width="0.6"/>
<path d="M471.0,230 L536.0,230 Q537.5,230 537.5,234.05 Q537.5,238.1 536.0,238.1 L471.0,238.1 Z" fill="#eef0f2" stroke="#4d525a" stroke-width="0.9"/>
<ellipse cx="471.42" cy="234.05" rx="2.02" ry="4.049999999999997" fill="#eef0f2" stroke="#4d525a" stroke-width="0.9"/>
<rect x="478.1" y="213.5" width="24.399999999999977" height="16.5" fill="#86d2f4" stroke="#22405a" stroke-width="0.8"/>
<line x1="478.6" y1="216.80" x2="502.0" y2="216.80" stroke="#2a86c8" stroke-width="1"/>
<line x1="478.6" y1="220.10" x2="502.0" y2="220.10" stroke="#2a86c8" stroke-width="1"/>
<line x1="478.6" y1="223.40" x2="502.0" y2="223.40" stroke="#2a86c8" stroke-width="1"/>
<line x1="478.6" y1="226.70" x2="502.0" y2="226.70" stroke="#2a86c8" stroke-width="1"/>
<rect x="508.5" y="222.5" width="5" height="7.5" fill="#eceeef" stroke="#3a3e44" stroke-width="0.8"/>
<ellipse cx="511.0" cy="223.0" rx="2.5" ry="0.9" fill="#a8acb0" stroke="#3a3e44" stroke-width="0.6"/>
<rect x="515.3" y="221" width="4.7" height="9" fill="#eceeef" stroke="#3a3e44" stroke-width="0.8"/>
<ellipse cx="517.65" cy="221.5" rx="2.35" ry="0.9" fill="#a8acb0" stroke="#3a3e44" stroke-width="0.6"/>
<rect x="521.9" y="219.4" width="5" height="10.599999999999994" fill="#eceeef" stroke="#3a3e44" stroke-width="0.8"/>
<ellipse cx="524.4" cy="219.9" rx="2.5" ry="0.9" fill="#a8acb0" stroke="#3a3e44" stroke-width="0.6"/>
<path d="M134.7,283 Q133,293 134.7,302.5" fill="none" stroke="#555" stroke-width="0.6"/>
<path d="M184.0,283 Q182.3,293 184.0,302.5" fill="none" stroke="#555" stroke-width="0.6"/>
<rect x="133.3" y="289.3" width="53.4" height="8" fill="#8fd5f4"/>
<line x1="133.3" y1="289.3" x2="186.7" y2="289.3" stroke="#22405a" stroke-width="0.9"/>
<line x1="133.3" y1="297.3" x2="186.7" y2="297.3" stroke="#22405a" stroke-width="0.9"/>
<ellipse cx="129" cy="289.7" rx="3.2" ry="2" fill="#1c6ea8" transform="rotate(20 129 289.7)"/>
<ellipse cx="129" cy="296.9" rx="3.2" ry="2" fill="#1c6ea8" transform="rotate(-20 129 296.9)"/>
<ellipse cx="190.2" cy="289.7" rx="3.2" ry="2" fill="#1c6ea8" transform="rotate(-20 190.2 289.7)"/>
<ellipse cx="190.2" cy="296.9" rx="3.2" ry="2" fill="#1c6ea8" transform="rotate(20 190.2 296.9)"/>
<path d="M140.7,286 L146.7,286 L156,292.7 L149.3,292.7 Z" fill="#f3f2ec" stroke="#2e2e2a" stroke-width="0.8"/>
<rect x="149.3" y="292.7" width="6.7" height="3.3" fill="#f6f6f2" stroke="#2e2e2a" stroke-width="0.8"/>
<rect x="149.3" y="296.6" width="6.7" height="2.9" fill="#f6f6f2" stroke="#2e2e2a" stroke-width="0.8"/>
<path d="M167.2,286 L173.2,286 L182.5,292.7 L175.8,292.7 Z" fill="#f3f2ec" stroke="#2e2e2a" stroke-width="0.8"/>
<rect x="175.8" y="292.7" width="6.7" height="3.3" fill="#f6f6f2" stroke="#2e2e2a" stroke-width="0.8"/>
<rect x="175.8" y="296.6" width="6.7" height="2.9" fill="#f6f6f2" stroke="#2e2e2a" stroke-width="0.8"/>
<rect x="236.9" y="290.3" width="34.400000000000006" height="8.099999999999966" fill="#eef0f2" stroke="#22405a" stroke-width="0.8"/>
<rect x="236.9" y="290.3" width="34.400000000000006" height="5.51" fill="#8fd5f4" stroke="#22405a" stroke-width="0.8"/>
<path d="M236.9,288.8 L231.20000000000002,288.8 L229.70000000000002,294.755 L231.70000000000002,298.9 L236.9,298.9 Z" fill="#f4f4f0" stroke="#3a3835" stroke-width="0.8"/>
<path d="M231.20000000000002,288.8 L232.70000000000002,291.3 L235.4,291.3 L236.9,288.8" fill="#cfcfcb" stroke="#3a3835" stroke-width="0.6"/>
<line x1="232.70000000000002" y1="291.3" x2="231.70000000000002" y2="298.9" stroke="#3a3835" stroke-width="0.6"/>
<path d="M271.3,288.8 L277.0,288.8 L278.5,294.755 L277.5,298.9 L271.3,298.9 Z" fill="#f4f4f0" stroke="#3a3835" stroke-width="0.8"/>
<path d="M277.0,288.8 L275.5,291.3 L272.8,291.3 L271.3,288.8" fill="#cfcfcb" stroke="#3a3835" stroke-width="0.6"/>
<line x1="275.5" y1="291.3" x2="276.0" y2="298.9" stroke="#3a3835" stroke-width="0.6"/>
<path d="M316.20000000000005,290.8 L352.25,290.8 Q353.75,290.8 353.75,294.15 Q353.75,297.5 352.25,297.5 L316.20000000000005,297.5 Z" fill="#eef0f2" stroke="#4d525a" stroke-width="0.9"/>
<ellipse cx="316.28" cy="294.15" rx="1.67" ry="3.3499999999999943" fill="#eef0f2" stroke="#4d525a" stroke-width="0.9"/>
<line x1="321.25" y1="294.15" x2="335" y2="294.15" stroke="#2b2f35" stroke-width="1"/>
<line x1="326.25" y1="290.8" x2="328.75" y2="288.3" stroke="#2b2f35" stroke-width="0.8"/>
<line x1="329.55" y1="290.8" x2="332.05" y2="288.3" stroke="#2b2f35" stroke-width="0.8"/>
<line x1="332.85" y1="290.8" x2="335.35" y2="288.3" stroke="#2b2f35" stroke-width="0.8"/>
<rect x="337.5" y="281.25" width="15.0" height="9.550000000000011" fill="#86d2f4" stroke="#22405a" stroke-width="0.8"/>
<line x1="338.0" y1="284.43" x2="352.0" y2="284.43" stroke="#2a86c8" stroke-width="1"/>
<line x1="338.0" y1="287.62" x2="352.0" y2="287.62" stroke="#2a86c8" stroke-width="1"/>
<rect x="391.8" y="290.5" width="47.7" height="6.5" fill="#eef0f2" stroke="#4d525a" stroke-width="0.9"/>
<ellipse cx="391.8" cy="293.75" rx="1.8" ry="3.25" fill="#eef0f2" stroke="#4d525a" stroke-width="0.9"/>
<path d="M439.5,290.5 Q438.5,293.75 440.1,297" fill="none" stroke="#4d525a" stroke-width="0.9"/>
<path d="M439.0,290.5 L440.5,288.5" fill="none" stroke="#4d525a" stroke-width="0.8"/>
<path d="M391.5,290.5 L392.5,288.5" fill="none" stroke="#4d525a" stroke-width="0.8"/>
<path d="M401.5,290.5 Q403.1,293.75 401.5,297" fill="none" stroke="#2b2f35" stroke-width="1.4"/>
<path d="M430.5,290.5 Q432.1,293.75 430.5,297" fill="none" stroke="#2b2f35" stroke-width="1.4"/>
<rect x="410.2" y="281.5" width="14.800000000000011" height="9.0" fill="#86d2f4" stroke="#22405a" stroke-width="0.8"/>
<line x1="410.7" y1="283.75" x2="424.5" y2="283.75" stroke="#2a86c8" stroke-width="1"/>
<line x1="410.7" y1="286.00" x2="424.5" y2="286.00" stroke="#2a86c8" stroke-width="1"/>
<line x1="410.7" y1="288.25" x2="424.5" y2="288.25" stroke="#2a86c8" stroke-width="1"/>
<line x1="475.8" y1="293.1" x2="480.5" y2="293.1" stroke="#2e3238" stroke-width="1"/>
<line x1="528.3" y1="293.1" x2="532.3" y2="293.1" stroke="#4d525a" stroke-width="0.9"/>
<ellipse cx="535.3" cy="293.1" rx="3.4" ry="1.9" fill="#1f6a8e"/>
<line x1="501.5" y1="289.6" x2="507.5" y2="284.6" stroke="#4d525a" stroke-width="0.9"/>
<ellipse cx="509.7" cy="282.8" rx="3.4" ry="1.9" fill="#1f6a8e" transform="rotate(-40 509.7 282.8)"/>
<rect x="480.5" y="289.6" width="47.799999999999955" height="7.0" rx="1.5" fill="#eef0f2" stroke="#4d525a" stroke-width="0.9"/>
<ellipse cx="482.1" cy="293.1" rx="1.6" ry="3.5" fill="#eef0f2" stroke="#4d525a" stroke-width="0.8"/>
<path d="M491.6,289.6 Q493.20000000000005,293.1 491.6,296.6" fill="none" stroke="#2b2f35" stroke-width="1.2"/>
<path d="M520.8,289.6 Q522.4,293.1 520.8,296.6" fill="none" stroke="#2b2f35" stroke-width="1.2"/>
<path d="M525.3,289.6 Q526.6999999999999,293.1 525.3,296.6" fill="none" stroke="#4d525a" stroke-width="0.7"/>
<rect x="480.8" y="348.9" width="56.99999999999994" height="3.3" fill="#8ed6f5" stroke="#22405a" stroke-width="0.8"/>
<line x1="485.3" y1="337.59999999999997" x2="485.3" y2="348.9" stroke="#7fd0f2" stroke-width="1"/>
<rect x="485.3" y="342.29999999999995" width="35.49999999999994" height="1.9" fill="#8c9aa2" stroke="#34424c" stroke-width="0.7"/>
<line x1="491.5" y1="340.4" x2="491.5" y2="348.9" stroke="#3b4a55" stroke-width="0.9"/>
<line x1="511.90000000000003" y1="340.4" x2="511.90000000000003" y2="348.9" stroke="#3b4a55" stroke-width="0.9"/>
<rect x="524.5999999999999" y="337.2" width="13.2" height="11.7" fill="#a8c8d8" stroke="#22405a" stroke-width="0.9"/>
<circle cx="531.1999999999999" cy="343.04999999999995" r="5.3" fill="#8fd5f4" stroke="#2a5a78" stroke-width="0.9"/>
<path d="M391.6,341 L434.0,341 Q435.5,341 435.5,345.35 Q435.5,349.7 434.0,349.7 L391.6,349.7 Z" fill="#8ed6f5" stroke="#2a4a62" stroke-width="0.9"/>
<ellipse cx="392.18" cy="345.35" rx="2.17" ry="4.349999999999994" fill="#8ed6f5" stroke="#2a4a62" stroke-width="0.9"/>
<path d="M400.1,335 L406.6,335 L416.1,341.5 L409.6,341.5 Z" fill="#2a8ed0" stroke="#22405a" stroke-width="0.7"/>
<path d="M400.1,335 L409.6,341.5 L409.6,347.5 L400.1,340.4 Z" fill="#1f75b2" stroke="#22405a" stroke-width="0.7"/>
<rect x="409.6" y="341.5" width="6.5" height="6.0" fill="#2a8ed0" stroke="#22405a" stroke-width="0.7"/>
<line x1="409.6" y1="344.5" x2="416.1" y2="344.5" stroke="#22405a" stroke-width="0.6"/>
<line x1="400.1" y1="337.7" x2="409.6" y2="344.5" stroke="#22405a" stroke-width="0.6"/>
<rect x="306.0" y="344.2" width="37.5" height="2.2" fill="#1f5c85"/>
<path d="M312,335.4 L330.0,335.4 L337.5,340.4 L319.5,340.4 Z" fill="#a3def6" stroke="#1c3a50" stroke-width="0.8"/>
<path d="M312,335.4 L319.5,340.4 L319.5,351.4 L312,346.4 Z" fill="#8fd3f0" stroke="#1c3a50" stroke-width="0.8"/>
<rect x="319.5" y="340.4" width="18.0" height="11.0" fill="#a3def6" stroke="#1c3a50" stroke-width="0.8"/>
<rect x="323.0" y="342.4" width="4.5" height="9.0" fill="#c8eefb" stroke="#1c3a50" stroke-width="0.8"/>
<line x1="323.0" y1="345.4" x2="327.5" y2="345.4" stroke="#1c3a50" stroke-width="0.7"/>
<line x1="323.0" y1="347.4" x2="327.5" y2="347.4" stroke="#1c3a50" stroke-width="0.7"/>
<path d="M327.5,342.4 L329.5,344.4 L329.5,352.9" fill="none" stroke="#1c3a50" stroke-width="0.7"/>
<rect x="337.5" y="344.2" width="6.0" height="2.2" fill="#1f5c85"/>
<clipPath id="pk1"><path d="M227.5,336.25 L254.89999999999998,336.25 L259.4,340.75 L259.4,352.4 L232.0,352.4 L227.5,347.9 Z"/></clipPath>
<g clip-path="url(#pk1)"><rect x="227.5" y="336.25" width="31.899999999999977" height="16.149999999999977" fill="#2f7090"/>
<line x1="227.5" y1="337.65" x2="259.4" y2="337.65" stroke="#8fb8ca" stroke-width="1.05"/>
<line x1="227.5" y1="339.90" x2="259.4" y2="339.90" stroke="#8fb8ca" stroke-width="1.05"/>
<line x1="227.5" y1="342.15" x2="259.4" y2="342.15" stroke="#8fb8ca" stroke-width="1.05"/>
<line x1="227.5" y1="344.40" x2="259.4" y2="344.40" stroke="#8fb8ca" stroke-width="1.05"/>
<line x1="227.5" y1="346.65" x2="259.4" y2="346.65" stroke="#8fb8ca" stroke-width="1.05"/>
<line x1="227.5" y1="348.90" x2="259.4" y2="348.90" stroke="#8fb8ca" stroke-width="1.05"/>
<line x1="227.5" y1="351.15" x2="259.4" y2="351.15" stroke="#8fb8ca" stroke-width="1.05"/>
</g>
<path d="M227.5,336.25 L232.0,340.75 L232.0,352.4 L227.5,347.9 Z" fill="#1c3c5c"/>
<path d="M227.5,336.25 L254.89999999999998,336.25 L259.4,340.75 L259.4,352.4 L232.0,352.4 L227.5,347.9 Z" fill="none" stroke="#6cd6f2" stroke-width="0.9"/>
<g transform="translate(135.3,338)">
<path d="M5,0 L12.5,0 L12.5,1 L46,1 L46,10.3 L45,11.8 L0,11.8 L0,5 Z" fill="#1c8cd4"/>
<path d="M5.5,1.5 L11,1.5 L11,4.2 L4.5,4.2 Z" fill="#c8ecfb"/>
<line x1="13" y1="6.6" x2="45.5" y2="6.6" stroke="#62bdf0" stroke-width="0.6"/>
<line x1="12.6" y1="7" x2="12.6" y2="10.5" stroke="#62bdf0" stroke-width="0.6"/>
<circle cx="7" cy="12" r="2.5" fill="#1c8cd4" stroke="#c8ecfb" stroke-width="0.6"/>
<circle cx="17.3" cy="12" r="2.5" fill="#1c8cd4" stroke="#c8ecfb" stroke-width="0.6"/>
<circle cx="23.3" cy="12" r="2.5" fill="#1c8cd4" stroke="#c8ecfb" stroke-width="0.6"/>
<circle cx="35.2" cy="12" r="2.5" fill="#1c8cd4" stroke="#c8ecfb" stroke-width="0.6"/>
<circle cx="41.2" cy="12" r="2.5" fill="#1c8cd4" stroke="#c8ecfb" stroke-width="0.6"/>
</g>
<path d="M127.3,382.8 L139.7,387.4 L139.7,397.9 L127.3,392.4 Z" fill="#8fd5f4" stroke="#22405a" stroke-width="0.8"/>
<line x1="128.3" y1="384.90" x2="138.7" y2="388.80" stroke="#22405a" stroke-width="0.75"/>
<line x1="128.3" y1="386.65" x2="138.7" y2="390.55" stroke="#22405a" stroke-width="0.75"/>
<line x1="128.3" y1="388.40" x2="138.7" y2="392.30" stroke="#22405a" stroke-width="0.75"/>
<line x1="128.3" y1="390.15" x2="138.7" y2="394.05" stroke="#22405a" stroke-width="0.75"/>
<line x1="128.3" y1="391.90" x2="138.7" y2="395.80" stroke="#22405a" stroke-width="0.75"/>
<rect x="139.7" y="387.4" width="28.5" height="10.5" fill="#8fd5f4" stroke="#22405a" stroke-width="0.8"/>
<path d="M127.25,382.6 L137.75,380 L142.2,380.6 L146,379.3 L153.5,379.3 L161.7,381.5 L164.4,383.4 L164.75,386 L168.2,387.4 L139.7,387.4 Z" fill="#a6def6" stroke="#22405a" stroke-width="0.8"/>
<line x1="133.5" y1="381.6" x2="143.5" y2="386.6" stroke="#22405a" stroke-width="0.8"/>
<line x1="135.7" y1="381.0" x2="145.3" y2="385.6" stroke="#4a6a84" stroke-width="0.5"/>
<line x1="142.5" y1="380.2" x2="152.8" y2="385.6" stroke="#22405a" stroke-width="0.8"/>
<line x1="144.7" y1="379.59999999999997" x2="154.60000000000002" y2="384.6" stroke="#4a6a84" stroke-width="0.5"/>
<line x1="150.6" y1="379.4" x2="160.6" y2="384.6" stroke="#22405a" stroke-width="0.8"/>
<line x1="152.79999999999998" y1="378.79999999999995" x2="162.4" y2="383.6" stroke="#4a6a84" stroke-width="0.5"/>
<rect x="221" y="383" width="12" height="3.3" rx="1.5" fill="#efe2d4" stroke="#6a3a1c" stroke-width="0.8"/>
<circle cx="222.6" cy="384.65" r="1.5" fill="#5a2c12"/>
<circle cx="231.4" cy="384.65" r="2.1" fill="#5a2c12"/>
<rect x="221" y="390.5" width="12" height="3.3" rx="1.5" fill="#efe2d4" stroke="#6a3a1c" stroke-width="0.8"/>
<circle cx="222.6" cy="392.15" r="2.1" fill="#5a2c12"/>
<circle cx="231.4" cy="392.15" r="1.5" fill="#5a2c12"/>
<rect x="236" y="383" width="12" height="3.3" rx="1.5" fill="#efe2d4" stroke="#6a3a1c" stroke-width="0.8"/>
<circle cx="237.6" cy="384.65" r="1.5" fill="#5a2c12"/>
<circle cx="246.4" cy="384.65" r="2.1" fill="#5a2c12"/>
<rect x="236" y="390.5" width="12" height="3.3" rx="1.5" fill="#efe2d4" stroke="#6a3a1c" stroke-width="0.8"/>
<circle cx="237.6" cy="392.15" r="2.1" fill="#5a2c12"/>
<circle cx="246.4" cy="392.15" r="1.5" fill="#5a2c12"/>
<rect x="250.5" y="383" width="12.0" height="3.3" rx="1.5" fill="#efe2d4" stroke="#6a3a1c" stroke-width="0.8"/>
<circle cx="252.1" cy="384.65" r="1.5" fill="#5a2c12"/>
<circle cx="260.9" cy="384.65" r="2.1" fill="#5a2c12"/>
<rect x="250.5" y="390.5" width="12.0" height="3.3" rx="1.5" fill="#efe2d4" stroke="#6a3a1c" stroke-width="0.8"/>
<circle cx="252.1" cy="392.15" r="2.1" fill="#5a2c12"/>
<circle cx="260.9" cy="392.15" r="1.5" fill="#5a2c12"/>
<rect x="212.5" y="386" width="55" height="4.6" rx="2.2" fill="#8fd5f4" stroke="#22405a" stroke-width="0.8"/>
<path d="M404.1,390 L441.0,390 Q442.5,390 442.5,393.125 Q442.5,396.25 441.0,396.25 L404.1,396.25 Z" fill="#eef0f2" stroke="#4d525a" stroke-width="0.9"/>
<ellipse cx="404.10" cy="393.125" rx="1.60" ry="3.125" fill="#eef0f2" stroke="#4d525a" stroke-width="0.9"/>
<line x1="410" y1="393.125" x2="423.75" y2="393.125" stroke="#2b2f35" stroke-width="1"/>
<line x1="415.0" y1="390" x2="417.5" y2="387.5" stroke="#2b2f35" stroke-width="0.8"/>
<line x1="418.3" y1="390" x2="420.8" y2="387.5" stroke="#2b2f35" stroke-width="0.8"/>
<line x1="421.6" y1="390" x2="424.1" y2="387.5" stroke="#2b2f35" stroke-width="0.8"/>
<rect x="426.25" y="380.4" width="14.550000000000011" height="9.600000000000023" fill="#86d2f4" stroke="#22405a" stroke-width="0.8"/>
<line x1="426.75" y1="383.60" x2="440.3" y2="383.60" stroke="#2a86c8" stroke-width="1"/>
<line x1="426.75" y1="386.80" x2="440.3" y2="386.80" stroke="#2a86c8" stroke-width="1"/>
<rect x="489.1" y="388.8" width="47.29999999999997" height="7.800000000000011" fill="#eef0f2" stroke="#4d525a" stroke-width="0.9"/>
<ellipse cx="489.1" cy="392.70000000000005" rx="1.8" ry="3.9000000000000057" fill="#eef0f2" stroke="#4d525a" stroke-width="0.9"/>
<path d="M536.4,388.8 Q535.4,392.70000000000005 537.0,396.6" fill="none" stroke="#4d525a" stroke-width="0.9"/>
<path d="M535.9,388.8 L537.4,386.8" fill="none" stroke="#4d525a" stroke-width="0.8"/>
<path d="M488.8,388.8 L489.8,386.8" fill="none" stroke="#4d525a" stroke-width="0.8"/>
<path d="M498.8,388.8 Q500.40000000000003,392.70000000000005 498.8,396.6" fill="none" stroke="#2b2f35" stroke-width="1.4"/>
<path d="M527.7,388.8 Q529.3000000000001,392.70000000000005 527.7,396.6" fill="none" stroke="#2b2f35" stroke-width="1.4"/>
<rect x="508.4" y="380" width="14.200000000000045" height="8.800000000000011" fill="#86d2f4" stroke="#22405a" stroke-width="0.8"/>
<line x1="508.9" y1="382.20" x2="522.1" y2="382.20" stroke="#2a86c8" stroke-width="1"/>
<line x1="508.9" y1="384.40" x2="522.1" y2="384.40" stroke="#2a86c8" stroke-width="1"/>
<line x1="508.9" y1="386.60" x2="522.1" y2="386.60" stroke="#2a86c8" stroke-width="1"/>
<rect x="126.9" y="437.5" width="40.6" height="7.5" fill="#1c8cd4" stroke="#1a4a70" stroke-width="0.8"/>
<rect x="142" y="438" width="25" height="6.5" fill="#1670b0"/>
<rect x="145.6" y="439.5" width="10.6" height="3.6" rx="1.8" fill="#ffffff"/>
<line x1="156" y1="441.3" x2="163.5" y2="441.3" stroke="#e8f0f8" stroke-width="0.8"/>
<ellipse cx="168.8" cy="441.2" rx="2.6" ry="4.8" fill="#1a5c92" stroke="#10304a" stroke-width="0.6"/>
<ellipse cx="172.8" cy="441.2" rx="2.6" ry="4.8" fill="#1a6aa4" stroke="#10304a" stroke-width="0.6"/>
<ellipse cx="176" cy="441.2" rx="1.6" ry="3.6" fill="#1a5c92" stroke="#10304a" stroke-width="0.6"/>
<rect x="177.5" y="440.4" width="11.9" height="1.8" fill="#c8d0d6" stroke="#50565c" stroke-width="0.6"/>
<rect x="236.8" y="437.6" width="32.5" height="8.099999999999966" fill="#eef0f2" stroke="#22405a" stroke-width="0.8"/>
<rect x="236.8" y="437.6" width="32.5" height="5.51" fill="#8fd5f4" stroke="#22405a" stroke-width="0.8"/>
<path d="M236.8,436.1 L229.8,436.1 L228.3,442.055 L230.3,446.2 L236.8,446.2 Z" fill="#f4f4f0" stroke="#3a3835" stroke-width="0.8"/>
<path d="M229.8,436.1 L231.3,438.6 L235.3,438.6 L236.8,436.1" fill="#cfcfcb" stroke="#3a3835" stroke-width="0.6"/>
<line x1="231.3" y1="438.6" x2="230.3" y2="446.2" stroke="#3a3835" stroke-width="0.6"/>
<path d="M269.3,436.1 L276.3,436.1 L277.8,442.055 L276.8,446.2 L269.3,446.2 Z" fill="#f4f4f0" stroke="#3a3835" stroke-width="0.8"/>
<path d="M276.3,436.1 L274.8,438.6 L270.8,438.6 L269.3,436.1" fill="#cfcfcb" stroke="#3a3835" stroke-width="0.6"/>
<line x1="274.8" y1="438.6" x2="275.3" y2="446.2" stroke="#3a3835" stroke-width="0.6"/>
<circle cx="353.3" cy="442.6" r="8.5" fill="none" stroke="#3a3e44" stroke-width="0.8"/>
<circle cx="348.2" cy="442.6" r="7.9" fill="#e6ecf2" stroke="#3a3e44" stroke-width="0.8"/>
<rect x="315" y="439.7" width="29.4" height="5.9" rx="2.5" fill="#1c8cd4" stroke="#1a5a8a" stroke-width="0.6"/>
<rect x="347" y="436" width="2" height="2" fill="#2a2e34"/>
<rect x="351.2" y="441.5" width="2" height="2" fill="#2a2e34"/>
<rect x="347" y="447" width="2" height="2" fill="#2a2e34"/>
<path d="M345,435.5 L348,437 M345,449.3 L348,448 M352.2,442.5 L355,442.5" stroke="#3a3e44" stroke-width="0.6"/>
<rect x="502.8" y="436" width="35.4" height="6" fill="#1c8cd4" stroke="#1a4a70" stroke-width="0.7"/>
<path d="M496.4,434.2 L501,434.2 L504.7,437 L504.7,442.4 L496.4,442.4 Z" fill="#8fd5f4" stroke="#22405a" stroke-width="0.7"/>
<rect x="507.4" y="443.3" width="6.5" height="6.9" fill="#8fd5f4" stroke="#22405a" stroke-width="0.7"/>
<ellipse cx="522.6" cy="438.3" rx="5.4" ry="6.9" fill="#8fd5f4" stroke="#22405a" stroke-width="0.8"/>
<ellipse cx="518.8" cy="438.3" rx="5.4" ry="6.9" fill="#8fd5f4" stroke="#22405a" stroke-width="0.8"/>
<ellipse cx="518.3" cy="439" rx="2.6" ry="3.4" fill="#1c8cd4" stroke="#22405a" stroke-width="0.6"/>
<rect x="127" y="500.8" width="57" height="3.3" fill="#8ed6f5" stroke="#22405a" stroke-width="0.8"/>
<line x1="131.5" y1="489.5" x2="131.5" y2="500.8" stroke="#7fd0f2" stroke-width="1"/>
<rect x="131.5" y="494.2" width="35.5" height="1.9" fill="#8c9aa2" stroke="#34424c" stroke-width="0.7"/>
<line x1="137.7" y1="492.3" x2="137.7" y2="500.8" stroke="#3b4a55" stroke-width="0.9"/>
<line x1="158.1" y1="492.3" x2="158.1" y2="500.8" stroke="#3b4a55" stroke-width="0.9"/>
<rect x="171.3" y="489.1" width="12.7" height="11.7" fill="#a8c8d8" stroke="#22405a" stroke-width="0.9"/>
<circle cx="177.65" cy="494.95" r="5.05" fill="#8fd5f4" stroke="#2a5a78" stroke-width="0.9"/>
<path d="M224.6,495 L266.0,495 Q267.5,495 267.5,499.25 Q267.5,503.5 266.0,503.5 L224.6,503.5 Z" fill="#8ed6f5" stroke="#2a4a62" stroke-width="0.9"/>
<ellipse cx="225.12" cy="499.25" rx="2.12" ry="4.25" fill="#8ed6f5" stroke="#2a4a62" stroke-width="0.9"/>
<path d="M232.5,489 L239.0,489 L248.5,495.5 L242.0,495.5 Z" fill="#2a8ed0" stroke="#22405a" stroke-width="0.7"/>
<path d="M232.5,489 L242.0,495.5 L242.0,501.5 L232.5,494.4 Z" fill="#1f75b2" stroke="#22405a" stroke-width="0.7"/>
<rect x="242.0" y="495.5" width="6.5" height="6.0" fill="#2a8ed0" stroke="#22405a" stroke-width="0.7"/>
<line x1="242.0" y1="498.5" x2="248.5" y2="498.5" stroke="#22405a" stroke-width="0.6"/>
<line x1="232.5" y1="491.7" x2="242.0" y2="498.5" stroke="#22405a" stroke-width="0.6"/>
<rect x="312.9" y="496.44" width="39.375" height="2.3100000000000005" fill="#1f5c85"/>
<path d="M319.2,487.2 L338.09999999999997,487.2 L345.97499999999997,492.45 L327.075,492.45 Z" fill="#a3def6" stroke="#1c3a50" stroke-width="0.8"/>
<path d="M319.2,487.2 L327.075,492.45 L327.075,504.0 L319.2,498.75 Z" fill="#8fd3f0" stroke="#1c3a50" stroke-width="0.8"/>
<rect x="327.075" y="492.45" width="18.900000000000002" height="11.55" fill="#a3def6" stroke="#1c3a50" stroke-width="0.8"/>
<rect x="330.75" y="494.55" width="4.7250000000000005" height="9.450000000000001" fill="#c8eefb" stroke="#1c3a50" stroke-width="0.8"/>
<line x1="330.75" y1="497.7" x2="335.47499999999997" y2="497.7" stroke="#1c3a50" stroke-width="0.7"/>
<line x1="330.75" y1="499.8" x2="335.47499999999997" y2="499.8" stroke="#1c3a50" stroke-width="0.7"/>
<path d="M335.47499999999997,494.55 L337.575,496.65 L337.575,505.575" fill="none" stroke="#1c3a50" stroke-width="0.7"/>
<rect x="345.97499999999997" y="496.44" width="6.300000000000001" height="2.3100000000000005" fill="#1f5c85"/>
<clipPath id="pk2"><path d="M405,485.4 L441.4,485.4 L447.9,490.9 L447.9,507.5 L411.5,507.5 L405,502.0 Z"/></clipPath>
<g clip-path="url(#pk2)"><rect x="405" y="485.4" width="42.89999999999998" height="22.100000000000023" fill="#2f7090"/>
<line x1="405" y1="486.80" x2="447.9" y2="486.80" stroke="#8fb8ca" stroke-width="1.05"/>
<line x1="405" y1="489.05" x2="447.9" y2="489.05" stroke="#8fb8ca" stroke-width="1.05"/>
<line x1="405" y1="491.30" x2="447.9" y2="491.30" stroke="#8fb8ca" stroke-width="1.05"/>
<line x1="405" y1="493.55" x2="447.9" y2="493.55" stroke="#8fb8ca" stroke-width="1.05"/>
<line x1="405" y1="495.80" x2="447.9" y2="495.80" stroke="#8fb8ca" stroke-width="1.05"/>
<line x1="405" y1="498.05" x2="447.9" y2="498.05" stroke="#8fb8ca" stroke-width="1.05"/>
<line x1="405" y1="500.30" x2="447.9" y2="500.30" stroke="#8fb8ca" stroke-width="1.05"/>
<line x1="405" y1="502.55" x2="447.9" y2="502.55" stroke="#8fb8ca" stroke-width="1.05"/>
<line x1="405" y1="504.80" x2="447.9" y2="504.80" stroke="#8fb8ca" stroke-width="1.05"/>
<line x1="405" y1="507.05" x2="447.9" y2="507.05" stroke="#8fb8ca" stroke-width="1.05"/>
</g>
<path d="M405,485.4 L411.5,490.9 L411.5,507.5 L405,502.0 Z" fill="#1c3c5c"/>
<path d="M405,485.4 L441.4,485.4 L447.9,490.9 L447.9,507.5 L411.5,507.5 L405,502.0 Z" fill="none" stroke="#6cd6f2" stroke-width="0.9"/>
<g transform="translate(492,489.5) translate(46,0) scale(-1,1)">
<path d="M5,0 L12.5,0 L12.5,1 L46,1 L46,10.3 L45,11.8 L0,11.8 L0,5 Z" fill="#1c8cd4"/>
<path d="M5.5,1.5 L11,1.5 L11,4.2 L4.5,4.2 Z" fill="#c8ecfb"/>
<line x1="13" y1="6.6" x2="45.5" y2="6.6" stroke="#62bdf0" stroke-width="0.6"/>
<line x1="12.6" y1="7" x2="12.6" y2="10.5" stroke="#62bdf0" stroke-width="0.6"/>
<circle cx="7" cy="12" r="2.5" fill="#1c8cd4" stroke="#c8ecfb" stroke-width="0.6"/>
<circle cx="17.3" cy="12" r="2.5" fill="#1c8cd4" stroke="#c8ecfb" stroke-width="0.6"/>
<circle cx="23.3" cy="12" r="2.5" fill="#1c8cd4" stroke="#c8ecfb" stroke-width="0.6"/>
<circle cx="35.2" cy="12" r="2.5" fill="#1c8cd4" stroke="#c8ecfb" stroke-width="0.6"/>
<circle cx="41.2" cy="12" r="2.5" fill="#1c8cd4" stroke="#c8ecfb" stroke-width="0.6"/>
</g>
<line x1="127" y1="561.0" x2="131.7" y2="561.0" stroke="#2e3238" stroke-width="1"/>
<line x1="178.9" y1="561.0" x2="182.9" y2="561.0" stroke="#4d525a" stroke-width="0.9"/>
<ellipse cx="185.9" cy="561.0" rx="3.4" ry="1.9" fill="#1f6a8e"/>
<line x1="152.1" y1="557.5" x2="158.1" y2="552.5" stroke="#4d525a" stroke-width="0.9"/>
<ellipse cx="160.29999999999998" cy="550.7" rx="3.4" ry="1.9" fill="#1f6a8e" transform="rotate(-40 160.29999999999998 550.7)"/>
<rect x="131.7" y="557.5" width="47.20000000000002" height="7.0" rx="1.5" fill="#eef0f2" stroke="#4d525a" stroke-width="0.9"/>
<ellipse cx="133.29999999999998" cy="561.0" rx="1.6" ry="3.5" fill="#eef0f2" stroke="#4d525a" stroke-width="0.8"/>
<path d="M142.75,557.5 Q144.35,561.0 142.75,564.5" fill="none" stroke="#2b2f35" stroke-width="1.2"/>
<path d="M171.3,557.5 Q172.9,561.0 171.3,564.5" fill="none" stroke="#2b2f35" stroke-width="1.2"/>
<path d="M175.9,557.5 Q177.3,561.0 175.9,564.5" fill="none" stroke="#4d525a" stroke-width="0.7"/>
<rect x="227.6" y="561" width="57.20000000000002" height="3.3" fill="#8ed6f5" stroke="#22405a" stroke-width="0.8"/>
<line x1="232.1" y1="549.7" x2="232.1" y2="561" stroke="#7fd0f2" stroke-width="1"/>
<rect x="232.1" y="554.4" width="35.70000000000002" height="1.9" fill="#8c9aa2" stroke="#34424c" stroke-width="0.7"/>
<line x1="238.29999999999998" y1="552.5" x2="238.29999999999998" y2="561" stroke="#3b4a55" stroke-width="0.9"/>
<line x1="258.7" y1="552.5" x2="258.7" y2="561" stroke="#3b4a55" stroke-width="0.9"/>
<rect x="271.3" y="549.3" width="13.5" height="11.7" fill="#a8c8d8" stroke="#22405a" stroke-width="0.9"/>
<circle cx="278.05" cy="555.15" r="5.45" fill="#8fd5f4" stroke="#2a5a78" stroke-width="0.9"/>
<path d="M326.1,556 L367.5,556 Q369,556 369,560.0 Q369,564 367.5,564 L326.1,564 Z" fill="#8ed6f5" stroke="#2a4a62" stroke-width="0.9"/>
<ellipse cx="326.50" cy="560.0" rx="2.00" ry="4.0" fill="#8ed6f5" stroke="#2a4a62" stroke-width="0.9"/>
<path d="M334.5,549.5 L341.0,549.5 L350.5,556.0 L344.0,556.0 Z" fill="#2a8ed0" stroke="#22405a" stroke-width="0.7"/>
<path d="M334.5,549.5 L344.0,556.0 L344.0,562.0 L334.5,554.9 Z" fill="#1f75b2" stroke="#22405a" stroke-width="0.7"/>
<rect x="344.0" y="556.0" width="6.5" height="6.0" fill="#2a8ed0" stroke="#22405a" stroke-width="0.7"/>
<line x1="344.0" y1="559.0" x2="350.5" y2="559.0" stroke="#22405a" stroke-width="0.6"/>
<line x1="334.5" y1="552.2" x2="344.0" y2="559.0" stroke="#22405a" stroke-width="0.6"/>
<clipPath id="pk3"><path d="M408.75,546.25 L444.7,546.25 L451.7,552.25 L451.7,567 L415.75,567 L408.75,561 Z"/></clipPath>
<g clip-path="url(#pk3)"><rect x="408.75" y="546.25" width="42.94999999999999" height="20.75" fill="#2f7090"/>
<line x1="408.75" y1="547.65" x2="451.7" y2="547.65" stroke="#8fb8ca" stroke-width="1.05"/>
<line x1="408.75" y1="549.90" x2="451.7" y2="549.90" stroke="#8fb8ca" stroke-width="1.05"/>
<line x1="408.75" y1="552.15" x2="451.7" y2="552.15" stroke="#8fb8ca" stroke-width="1.05"/>
<line x1="408.75" y1="554.40" x2="451.7" y2="554.40" stroke="#8fb8ca" stroke-width="1.05"/>
<line x1="408.75" y1="556.65" x2="451.7" y2="556.65" stroke="#8fb8ca" stroke-width="1.05"/>
<line x1="408.75" y1="558.90" x2="451.7" y2="558.90" stroke="#8fb8ca" stroke-width="1.05"/>
<line x1="408.75" y1="561.15" x2="451.7" y2="561.15" stroke="#8fb8ca" stroke-width="1.05"/>
<line x1="408.75" y1="563.40" x2="451.7" y2="563.40" stroke="#8fb8ca" stroke-width="1.05"/>
<line x1="408.75" y1="565.65" x2="451.7" y2="565.65" stroke="#8fb8ca" stroke-width="1.05"/>
</g>
<path d="M408.75,546.25 L415.75,552.25 L415.75,567 L408.75,561 Z" fill="#1c3c5c"/>
<path d="M408.75,546.25 L444.7,546.25 L451.7,552.25 L451.7,567 L415.75,567 L408.75,561 Z" fill="none" stroke="#6cd6f2" stroke-width="0.9"/>
<g transform="translate(493,550) translate(46,0) scale(-1,1)">
<path d="M5,0 L12.5,0 L12.5,1 L46,1 L46,10.3 L45,11.8 L0,11.8 L0,5 Z" fill="#1c8cd4"/>
<path d="M5.5,1.5 L11,1.5 L11,4.2 L4.5,4.2 Z" fill="#c8ecfb"/>
<line x1="13" y1="6.6" x2="45.5" y2="6.6" stroke="#62bdf0" stroke-width="0.6"/>
<line x1="12.6" y1="7" x2="12.6" y2="10.5" stroke="#62bdf0" stroke-width="0.6"/>
<circle cx="7" cy="12" r="2.5" fill="#1c8cd4" stroke="#c8ecfb" stroke-width="0.6"/>
<circle cx="17.3" cy="12" r="2.5" fill="#1c8cd4" stroke="#c8ecfb" stroke-width="0.6"/>
<circle cx="23.3" cy="12" r="2.5" fill="#1c8cd4" stroke="#c8ecfb" stroke-width="0.6"/>
<circle cx="35.2" cy="12" r="2.5" fill="#1c8cd4" stroke="#c8ecfb" stroke-width="0.6"/>
<circle cx="41.2" cy="12" r="2.5" fill="#1c8cd4" stroke="#c8ecfb" stroke-width="0.6"/>
</g>
<rect x="48" y="423.5" width="7.5" height="4.5" rx="2" fill="#8fd5f4" stroke="#22405a" stroke-width="0.7"/>
<ellipse cx="63" cy="425.7" rx="2" ry="11" fill="#b8c8d6" stroke="#6a7a88" stroke-width="0.7"/>
<path d="M58,430 Q56,433 58,434 M66,418 Q68,417 69,419" fill="none" stroke="#4a8a6a" stroke-width="0.7"/>
<rect x="61" y="423.5" width="30.5" height="4.5" rx="2" fill="#8fd5f4" stroke="#22405a" stroke-width="0.7"/>
<ellipse cx="74.5" cy="425.7" rx="4.2" ry="6.7" fill="#8fd5f4" stroke="#22405a" stroke-width="0.7"/>
<ellipse cx="76.5" cy="425.7" rx="2.6" ry="6" fill="none" stroke="#22405a" stroke-width="0.6"/>
<path d="M66.5,506.9 L70.6,506.9 L70.6,514.7 L72.5,514.7 L68.55,519.3 L64.7,514.7 L66.5,514.7 Z" fill="#8fd5f4" stroke="#3a5a78" stroke-width="0.7"/>
<path d="M60.1,524.4 L72,524.4 L79.4,532.6 L67.5,532.6 Z" fill="#8fd5f4" stroke="#22405a" stroke-width="0.7"/>
<rect x="68" y="526.5" width="2.6" height="5" fill="#fff" stroke="#22405a" stroke-width="0.6"/>
<path d="M60.1,517.5 L72,517.5 L79.4,526.7 L67.5,526.7 Z" fill="#8fd5f4" stroke="#22405a" stroke-width="0.7"/>
<path d="M68.55,533.5 L72.5,537.7 L70.6,537.7 L70.6,545 L66.5,545 L66.5,537.7 L64.7,537.7 Z" fill="#8fd5f4" stroke="#3a5a78" stroke-width="0.7"/>
</svg>
</body></html>
